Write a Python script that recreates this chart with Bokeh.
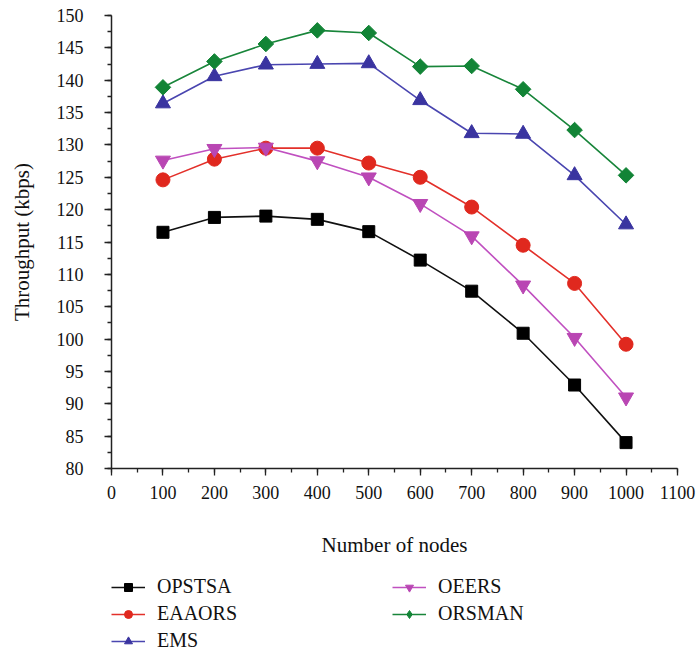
import math
from bokeh.plotting import figure
from bokeh.layouts import column
from bokeh.models import Legend, LegendItem, Range1d, SingleIntervalTicker
from bokeh.embed import file_html
from bokeh.resources import INLINE

nodes = [100, 200, 300, 400, 500, 600, 700, 800, 900, 1000]
opstsa = [116.5, 118.8, 119.0, 118.5, 116.6, 112.2, 107.4, 100.9, 92.9, 84.0]
eaaors = [124.6, 127.8, 129.5, 129.5, 127.2, 125.0, 120.4, 114.5, 108.6, 99.2]
ems = [136.4, 140.6, 142.4, 142.5, 142.6, 136.9, 131.8, 131.7, 125.3, 117.7]
oeers = [127.6, 129.4, 129.6, 127.5, 125.0, 120.9, 115.9, 108.3, 100.2, 91.0]
orsman = [138.9, 142.9, 145.6, 147.7, 147.3, 142.1, 142.2, 138.6, 132.3, 125.3]

FONT = "Liberation Serif"

p = figure(width=696, height=560, output_backend="svg", toolbar_location=None,
           x_range=Range1d(0, 1100), y_range=Range1d(80, 150),
           min_border_left=111, min_border_right=19, min_border_top=15,
           min_border_bottom=92)
p.outline_line_color = None
p.grid.visible = False

p.xaxis.ticker = SingleIntervalTicker(interval=100, num_minor_ticks=2)
p.yaxis.ticker = SingleIntervalTicker(interval=5, num_minor_ticks=2)
p.xaxis.axis_label = "Number of nodes"
p.yaxis.axis_label = "Throughput (kbps)"
for ax in (p.xaxis[0], p.yaxis[0]):
    ax.axis_line_color = "#222222"
    ax.axis_line_width = 1.5
    ax.major_tick_line_color = "#222222"
    ax.minor_tick_line_color = "#222222"
    ax.major_tick_line_width = 1.3
    ax.minor_tick_line_width = 1.3
    ax.major_tick_out = 7
    ax.major_tick_in = 0
    ax.minor_tick_out = 4
    ax.minor_tick_in = 0
    ax.major_label_text_font = FONT
    ax.major_label_text_font_size = "18px"
    ax.major_label_text_color = "#111111"
    ax.axis_label_text_font = FONT
    ax.axis_label_text_font_size = "21px"
    ax.axis_label_text_font_style = "normal"
    ax.axis_label_text_color = "#111111"
p.yaxis.major_label_standoff = 21
p.yaxis.axis_label_standoff = 20
p.xaxis.major_label_standoff = 10
p.xaxis.axis_label_standoff = 31

# name, values, line colour, marker colour, marker, size, angle, legend marker, legend size
series = [
    ("OPSTSA", opstsa, "#111111", "#000000", "square", 12, 0.0, "square", 10),
    ("EAAORS", eaaors, "#e3302a", "#e0281e", "circle", 14, 0.0, "circle", 11),
    ("EMS", ems, "#4a46b0", "#3a34a0", "triangle", 15, 0.0, "triangle", 12),
    ("OEERS", oeers, "#c050c0", "#b946b3", "inverted_triangle", 15, 0.0,
     "inverted_triangle", 12),
    ("ORSMAN", orsman, "#18853a", "#128436", "square", 11, math.pi / 4,
     "diamond", 15),
]

# legend-only figure below the chart (its proxy glyphs lie outside its range)
lf = figure(width=696, height=92, output_backend="svg", toolbar_location=None,
            x_range=Range1d(0, 1), y_range=Range1d(0, 1),
            min_border=0, x_axis_location=None, y_axis_location=None)
lf.outline_line_color = None
lf.grid.visible = False

items = []
for name, vals, lc, mc, marker, size, ang, lmarker, lsize in series:
    p.line(nodes, vals, line_color=lc, line_width=1.6)
    p.scatter(nodes, vals, marker=marker, size=size, angle=ang,
              fill_color=mc, line_color=mc)
    lr = lf.line(nodes, vals, line_color=lc, line_width=1.6)
    sr = lf.scatter(nodes, vals, marker=lmarker, size=lsize,
                    fill_color=mc, line_color=mc)
    items.append(LegendItem(label=name, renderers=[lr, sr]))

legend = Legend(items=items, nrows=3, orientation="vertical",
                location=(0, 0), label_text_font=FONT,
                label_text_font_size="20px", label_text_color="#111111",
                glyph_width=34, glyph_height=20, label_standoff=12,
                label_width=231, spacing=4, padding=0, margin=0,
                border_line_color=None, background_fill_alpha=0)
lf.add_layout(legend, "center")

layout = column(p, lf, spacing=0)
open("out.html", "w").write(file_html(layout, INLINE))
